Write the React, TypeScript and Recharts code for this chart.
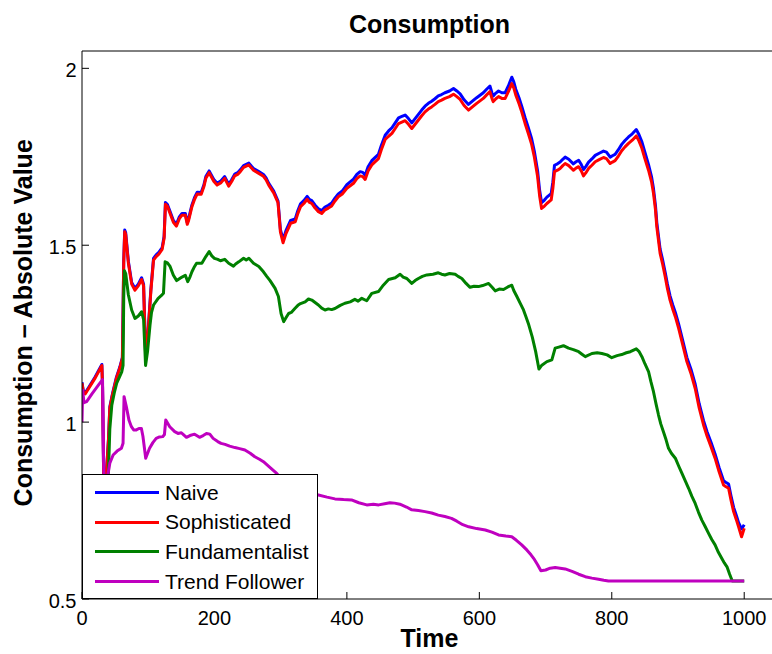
import { LineChart, Line, XAxis, YAxis, Legend } from 'recharts';

const X_TICKS = [0, 200, 400, 600, 800, 1000];
const Y_TICKS = [0.5, 1, 1.5, 2];

// [time, value] pairs
const NAIVE: [number, number][] = [
  [0, 1.113], [2, 1.088], [5, 1.083], [10, 1.098], [20, 1.128], [30, 1.163], [31, 1.103], [33, 0.803], [36, 0.833],
  [40, 0.953], [42, 1.043], [46, 1.08], [52, 1.127], [57, 1.155], [61, 1.183], [63, 1.455], [64.5, 1.543], [66, 1.535],
  [70, 1.455], [75, 1.395], [80, 1.378], [85, 1.39], [90, 1.408], [93, 1.39], [96, 1.195], [99, 1.235], [104, 1.375],
  [108, 1.463], [112, 1.473], [116, 1.48], [121, 1.493], [124, 1.525], [126, 1.621], [129, 1.615], [133, 1.595],
  [138, 1.57], [142.5, 1.559], [147, 1.58], [151, 1.59], [156, 1.59], [159, 1.564], [161, 1.575], [166, 1.614],
  [170, 1.635], [174, 1.65], [180, 1.649], [184, 1.67], [187, 1.694], [192, 1.71], [199, 1.686], [204, 1.675],
  [210, 1.682], [215.5, 1.694], [221.5, 1.672], [226, 1.685], [230.6, 1.701], [235, 1.705], [239, 1.713], [244, 1.725],
  [252, 1.732], [256, 1.723], [259, 1.717], [267, 1.708], [274, 1.7], [278, 1.69], [282, 1.675], [289.5, 1.653],
  [296, 1.625], [299.6, 1.545], [303.6, 1.515], [308, 1.541], [315, 1.57], [322, 1.574], [326, 1.598], [330, 1.617],
  [335, 1.626], [340, 1.638], [343, 1.63], [347, 1.626], [352, 1.613], [357, 1.603], [362, 1.598], [367, 1.608],
  [372, 1.613], [377, 1.619], [382, 1.633], [387, 1.645], [393, 1.653], [400, 1.671], [405, 1.679], [410, 1.687],
  [415, 1.7], [420, 1.708], [424, 1.706], [427.6, 1.698], [432, 1.722], [437.6, 1.739], [442, 1.747], [447.7, 1.757],
  [452, 1.782], [457.8, 1.811], [463, 1.823], [468, 1.832], [473, 1.846], [478, 1.86], [483, 1.864], [488, 1.868],
  [493, 1.858], [498, 1.846], [503, 1.858], [508, 1.87], [513, 1.882], [518, 1.893], [523, 1.901], [528, 1.907],
  [533, 1.914], [538, 1.922], [543, 1.926], [548, 1.931], [555, 1.936], [561, 1.943], [566, 1.936], [571, 1.928],
  [577, 1.911], [583.6, 1.898], [590, 1.908], [596, 1.917], [601, 1.924], [606, 1.931], [611, 1.941], [616, 1.95],
  [619, 1.931], [621, 1.922], [625, 1.93], [629, 1.936], [634, 1.931], [639, 1.931], [644, 1.951], [649, 1.975],
  [652, 1.962], [655, 1.941], [660, 1.916], [664, 1.893], [669, 1.861], [674, 1.832], [679, 1.801], [683, 1.766],
  [688, 1.71], [691, 1.656], [694, 1.62], [698, 1.627], [702, 1.636], [708.5, 1.646], [711, 1.678], [713.5, 1.726],
  [718, 1.73], [722, 1.735], [726, 1.743], [729.6, 1.749], [735, 1.743], [742, 1.73], [746, 1.736], [750, 1.74],
  [754, 1.728], [757.3, 1.714], [761, 1.723], [765, 1.735], [770, 1.744], [775, 1.754], [781, 1.76], [787.5, 1.766],
  [792, 1.763], [797.6, 1.749], [801, 1.753], [805, 1.757], [810, 1.77], [815, 1.785], [820, 1.796], [825.3, 1.806],
  [831, 1.815], [837, 1.827], [841, 1.813], [845.5, 1.792], [850, 1.763], [855.5, 1.728], [860, 1.694], [863, 1.66],
  [866, 1.612], [868, 1.564], [873, 1.489], [877, 1.457], [880.7, 1.423], [884, 1.39], [888, 1.357], [892, 1.332],
  [896, 1.31], [901, 1.277], [907, 1.232], [913.4, 1.183], [920, 1.147], [926, 1.107], [932, 1.052], [938.6, 1.004],
  [944, 0.972], [950, 0.942], [956, 0.91], [962, 0.872], [968.8, 0.834], [972, 0.83], [976.4, 0.825], [980, 0.792],
  [984, 0.759], [988, 0.737], [991.5, 0.716], [996, 0.698], [1000, 0.71],
];

const SOPHISTICATED: [number, number][] = [
  [0, 1.11], [2, 1.085], [5, 1.08], [10, 1.095], [20, 1.125], [30, 1.16], [31, 1.1], [33, 0.8], [36, 0.83],
  [40, 0.95], [42, 1.04], [46, 1.077], [52, 1.124], [57, 1.152], [61, 1.18], [63, 1.45], [64.5, 1.538], [66, 1.53],
  [70, 1.45], [75, 1.39], [80, 1.373], [85, 1.385], [90, 1.403], [93, 1.385], [96, 1.19], [99, 1.23], [104, 1.37],
  [108, 1.458], [112, 1.468], [116, 1.475], [121, 1.488], [124, 1.52], [126, 1.616], [129, 1.61], [133, 1.59],
  [138, 1.565], [142.5, 1.554], [147, 1.575], [151, 1.585], [156, 1.585], [159, 1.559], [161, 1.57], [166, 1.609],
  [170, 1.63], [174, 1.645], [180, 1.644], [184, 1.665], [187, 1.689], [192, 1.705], [199, 1.681], [204, 1.67],
  [210, 1.677], [215.5, 1.689], [221.5, 1.667], [226, 1.68], [230.6, 1.696], [235, 1.7], [239, 1.708], [244, 1.72],
  [252, 1.727], [256, 1.718], [259, 1.712], [267, 1.703], [274, 1.695], [278, 1.685], [282, 1.67], [289.5, 1.648],
  [296, 1.62], [299.6, 1.538], [303.6, 1.507], [308, 1.533], [315, 1.562], [322, 1.566], [326, 1.59], [330, 1.609],
  [335, 1.618], [340, 1.63], [343, 1.622], [347, 1.618], [352, 1.605], [357, 1.595], [362, 1.59], [367, 1.6],
  [372, 1.605], [377, 1.611], [382, 1.625], [387, 1.637], [393, 1.645], [400, 1.661], [405, 1.668], [410, 1.675],
  [415, 1.688], [420, 1.696], [424, 1.694], [427.6, 1.686], [432, 1.71], [437.6, 1.727], [442, 1.735], [447.7, 1.745],
  [452, 1.77], [457.8, 1.799], [463, 1.808], [468, 1.816], [473, 1.83], [478, 1.844], [483, 1.848], [488, 1.852],
  [493, 1.842], [498, 1.83], [503, 1.842], [508, 1.854], [513, 1.866], [518, 1.877], [523, 1.885], [528, 1.891],
  [533, 1.898], [538, 1.906], [543, 1.91], [548, 1.915], [555, 1.92], [561, 1.927], [566, 1.92], [571, 1.912],
  [577, 1.895], [583.6, 1.882], [590, 1.892], [596, 1.901], [601, 1.908], [606, 1.915], [611, 1.925], [616, 1.934],
  [619, 1.915], [621, 1.906], [625, 1.914], [629, 1.92], [634, 1.915], [639, 1.915], [644, 1.935], [649, 1.957],
  [652, 1.945], [655, 1.925], [660, 1.9], [664, 1.877], [669, 1.845], [674, 1.816], [679, 1.785], [683, 1.75],
  [688, 1.694], [691, 1.64], [694, 1.604], [698, 1.61], [702, 1.618], [708.5, 1.628], [711, 1.66], [713.5, 1.708],
  [718, 1.712], [722, 1.717], [726, 1.725], [729.6, 1.731], [735, 1.725], [742, 1.712], [746, 1.718], [750, 1.722],
  [754, 1.71], [757.3, 1.696], [761, 1.705], [765, 1.717], [770, 1.726], [775, 1.736], [781, 1.742], [787.5, 1.748],
  [792, 1.745], [797.6, 1.731], [801, 1.735], [805, 1.739], [810, 1.752], [815, 1.767], [820, 1.778], [825.3, 1.788],
  [831, 1.797], [837, 1.809], [841, 1.795], [845.5, 1.774], [850, 1.745], [855.5, 1.712], [860, 1.68], [863, 1.647],
  [866, 1.6], [868, 1.552], [873, 1.477], [877, 1.445], [880.7, 1.411], [884, 1.378], [888, 1.345], [892, 1.32],
  [896, 1.298], [901, 1.265], [907, 1.22], [913.4, 1.171], [920, 1.135], [926, 1.095], [932, 1.04], [938.6, 0.992],
  [944, 0.96], [950, 0.93], [956, 0.898], [962, 0.86], [968.8, 0.822], [972, 0.818], [976.4, 0.813], [980, 0.78],
  [984, 0.747], [988, 0.725], [991.5, 0.704], [996, 0.676], [1000, 0.7],
];

const FUNDAMENTALIST: [number, number][] = [
  [0, 0.8], [30, 0.8], [34, 0.78], [38, 0.82], [40, 0.86], [42, 0.98], [45, 1.048], [49, 1.085], [52.4, 1.11],
  [56, 1.125], [60, 1.142], [62, 1.16], [63, 1.35], [64, 1.428], [66, 1.42], [70, 1.36], [75, 1.317], [80, 1.293],
  [85, 1.3], [90, 1.312], [93, 1.29], [96, 1.16], [99, 1.2], [102.7, 1.274], [105, 1.31], [108, 1.331], [115, 1.35],
  [120, 1.358], [123, 1.364], [125.5, 1.453], [129, 1.45], [133, 1.44], [138, 1.415], [143, 1.4], [147, 1.405],
  [151, 1.41], [156, 1.415], [159.7, 1.397], [163, 1.41], [166, 1.425], [170, 1.44], [173, 1.449], [181, 1.449],
  [187, 1.468], [192, 1.482], [196, 1.47], [200, 1.463], [205, 1.46], [209, 1.456], [215.6, 1.46], [221.5, 1.449],
  [228.7, 1.441], [232, 1.447], [236.7, 1.453], [244, 1.463], [248, 1.458], [252, 1.463], [259, 1.449], [267, 1.44],
  [274, 1.425], [279, 1.412], [284, 1.4], [291.6, 1.378], [296.6, 1.355], [300.6, 1.307], [304.5, 1.284], [308, 1.295],
  [312, 1.307], [316, 1.31], [321.8, 1.322], [326, 1.33], [330, 1.335], [337, 1.34], [342, 1.348], [347, 1.345],
  [352, 1.338], [357, 1.331], [362, 1.322], [367, 1.317], [372, 1.32], [377, 1.318], [382, 1.321], [390, 1.33],
  [397, 1.336], [405, 1.34], [412, 1.347], [417, 1.342], [422.5, 1.35], [430, 1.343], [437.6, 1.364], [447.7, 1.369],
  [455, 1.387], [463, 1.403], [473, 1.408], [480.4, 1.418], [485, 1.41], [490.5, 1.406], [498, 1.392], [503, 1.4],
  [508, 1.406], [514, 1.412], [520.7, 1.416], [530, 1.418], [538, 1.422], [543, 1.418], [548, 1.416], [555, 1.42],
  [563.5, 1.418], [568, 1.412], [573.6, 1.406], [580, 1.392], [586, 1.381], [592, 1.384], [598.8, 1.383], [605, 1.386],
  [614, 1.392], [620, 1.38], [624, 1.371], [630, 1.376], [636.5, 1.375], [643, 1.382], [649, 1.387], [652, 1.372],
  [656.7, 1.355], [662, 1.335], [666.7, 1.317], [670, 1.3], [674, 1.279], [680, 1.24], [685, 1.2], [690, 1.15],
  [694.4, 1.161], [702, 1.171], [709.5, 1.176], [714.5, 1.209], [720, 1.212], [727, 1.216], [734.7, 1.209],
  [742, 1.205], [750, 1.199], [755, 1.192], [760, 1.185], [770, 1.194], [778, 1.196], [785, 1.194], [793, 1.19],
  [800, 1.182], [808, 1.188], [815, 1.191], [822, 1.196], [828, 1.199], [837, 1.207], [841, 1.2], [845.5, 1.185],
  [850, 1.165], [855.5, 1.143], [859, 1.115], [863, 1.086], [867, 1.05], [870.6, 1.02], [874, 0.995], [878, 0.973],
  [882, 0.95], [885.7, 0.926], [890, 0.912], [896, 0.898], [901, 0.876], [906, 0.855], [911, 0.834], [916, 0.813],
  [921, 0.79], [926, 0.77], [931, 0.745], [936, 0.723], [941, 0.705], [946, 0.686], [951, 0.668], [956, 0.653],
  [961, 0.632], [966, 0.615], [970, 0.602], [974, 0.591], [978, 0.57], [982, 0.551], [1000, 0.551],
];

const TREND_FOLLOWER: [number, number][] = [
  [0, 1.0], [1, 1.09], [3, 1.055], [7, 1.058], [15, 1.08], [25, 1.105], [31, 1.12], [32.5, 0.9], [34, 0.78],
  [38, 0.84], [42, 0.884], [47, 0.907], [53, 0.918], [59.5, 0.926], [62, 0.94], [63.5, 1.072], [67, 1.043],
  [71, 1.005], [74.6, 0.987], [78, 0.978], [82, 0.978], [86, 0.982], [89.7, 0.982], [92, 0.96], [96.2, 0.898],
  [102, 0.926], [107, 0.942], [112, 0.954], [117, 0.958], [122, 0.959], [124.5, 0.965], [126.5, 1.006], [132.5, 0.987],
  [140, 0.973], [145, 0.968], [150, 0.97], [154, 0.963], [157.7, 0.957], [163, 0.962], [170, 0.966], [177.5, 0.957],
  [183, 0.962], [188, 0.968], [193, 0.966], [198, 0.954], [205, 0.945], [210, 0.94], [216, 0.937], [223, 0.932],
  [231, 0.928], [238, 0.925], [246, 0.921], [254, 0.912], [261, 0.902], [268, 0.895], [274, 0.888], [282, 0.875],
  [288, 0.865], [294, 0.855], [300, 0.842], [310, 0.825], [320, 0.812], [330, 0.805], [340, 0.8], [350, 0.797],
  [357, 0.794], [370, 0.788], [382, 0.783], [395, 0.781], [407, 0.78], [418, 0.772], [430, 0.766], [440, 0.768],
  [448, 0.766], [457, 0.769], [465, 0.772], [472, 0.771], [480, 0.768], [490, 0.76], [498, 0.752], [508, 0.75],
  [518, 0.747], [528, 0.743], [538, 0.737], [548, 0.733], [558, 0.728], [566, 0.72], [575, 0.71], [584, 0.704],
  [596, 0.699], [609, 0.695], [619, 0.689], [629, 0.681], [640, 0.678], [649, 0.676], [656, 0.666], [664, 0.653],
  [672, 0.638], [678, 0.625], [682, 0.615], [688, 0.597], [693, 0.58], [700, 0.582], [707, 0.587], [714.5, 0.589],
  [722, 0.587], [729.6, 0.585], [740, 0.578], [750, 0.57], [760, 0.563], [770, 0.559], [780, 0.556], [788, 0.553],
  [795, 0.551], [1000, 0.551],
];

const SERIES = [
  { name: 'Naive', color: '#0000FF', points: NAIVE },
  { name: 'Sophisticated', color: '#FF0000', points: SOPHISTICATED },
  { name: 'Fundamentalist', color: '#008000', points: FUNDAMENTALIST },
  { name: 'Trend Follower', color: '#BF00BF', points: TREND_FOLLOWER },
];

const FONT = '"Liberation Sans", Arial, Helvetica, sans-serif';
const X_DOMAIN: [number, number] = [0, 1048];
const Y_DOMAIN: [number, number] = [0.5, 2.049];

const tickStyle = { fill: '#000', fontSize: 20, fontFamily: FONT };

function LegendBox() {
  return (
    <div
      style={{
        width: 236,
        height: 125,
        boxSizing: 'border-box',
        border: '1px solid #000',
        background: '#fff',
        paddingTop: 2.7,
        fontFamily: FONT,
        fontSize: 21,
        color: '#000',
      }}
    >
      {SERIES.map((s) => (
        <div key={s.name} style={{ display: 'flex', alignItems: 'center', height: 29.7 }}>
          <div style={{ marginLeft: 12, width: 64, height: 3, background: s.color }} />
          <span style={{ marginLeft: 6, lineHeight: '29.7px', whiteSpace: 'nowrap' }}>{s.name}</span>
        </div>
      ))}
    </div>
  );
}

export default function App() {
  return (
    <div
      style={{
        position: 'absolute',
        left: 0,
        top: 0,
        width: 772,
        height: 654,
        overflow: 'hidden',
        background: '#fff',
      }}
    >
      <LineChart width={790} height={654} margin={{ top: 0, right: 0, bottom: 0, left: 0 }}>
        <XAxis
          xAxisId="bottom"
          type="number"
          dataKey="t"
          orientation="bottom"
          height={55}
          domain={X_DOMAIN}
          ticks={X_TICKS}
          allowDataOverflow
          stroke="#000"
          tickSize={-7}
          tickMargin={19}
          tick={tickStyle}
        />
        <XAxis
          xAxisId="top"
          type="number"
          dataKey="t"
          orientation="top"
          height={51}
          domain={X_DOMAIN}
          ticks={X_TICKS}
          allowDataOverflow
          stroke="#000"
          tickSize={-7}
          tick={false}
        />
        <YAxis
          yAxisId="left"
          type="number"
          width={82}
          domain={Y_DOMAIN}
          ticks={Y_TICKS}
          allowDataOverflow
          stroke="#000"
          tickSize={-7}
          tickMargin={12.5}
          tick={{ ...tickStyle, dy: 1.5 }}
        />
        <YAxis
          yAxisId="right"
          type="number"
          orientation="right"
          width={14}
          domain={Y_DOMAIN}
          ticks={Y_TICKS}
          allowDataOverflow
          stroke="#000"
          tickSize={-7}
          tick={false}
        />
        {SERIES.map((s) => (
          <Line
            key={s.name}
            xAxisId="bottom"
            yAxisId="left"
            data={s.points.map(([t, v]) => ({ t, v }))}
            dataKey="v"
            name={s.name}
            type="linear"
            stroke={s.color}
            strokeWidth={3}
            strokeLinejoin="round"
            dot={false}
            activeDot={false}
            isAnimationActive={false}
          />
        ))}
        <Legend
          layout="vertical"
          align="center"
          verticalAlign="middle"
          wrapperStyle={{ left: 82, top: 474 }}
          content={() => <LegendBox />}
        />
      </LineChart>
      <svg
        width={772}
        height={654}
        style={{ position: 'absolute', left: 0, top: 0, pointerEvents: 'none' }}
        fontFamily={FONT}
        fontWeight="bold"
        fontSize={25}
        fill="#000"
      >
        <text x={429.5} y={33} textAnchor="middle">
          Consumption
        </text>
        <text x={429.5} y={647} textAnchor="middle">
          Time
        </text>
        <text x={32} y={322.8} textAnchor="middle" transform="rotate(-90 32 322.8)">
          Consumption – Absolute Value
        </text>
      </svg>
    </div>
  );
}
